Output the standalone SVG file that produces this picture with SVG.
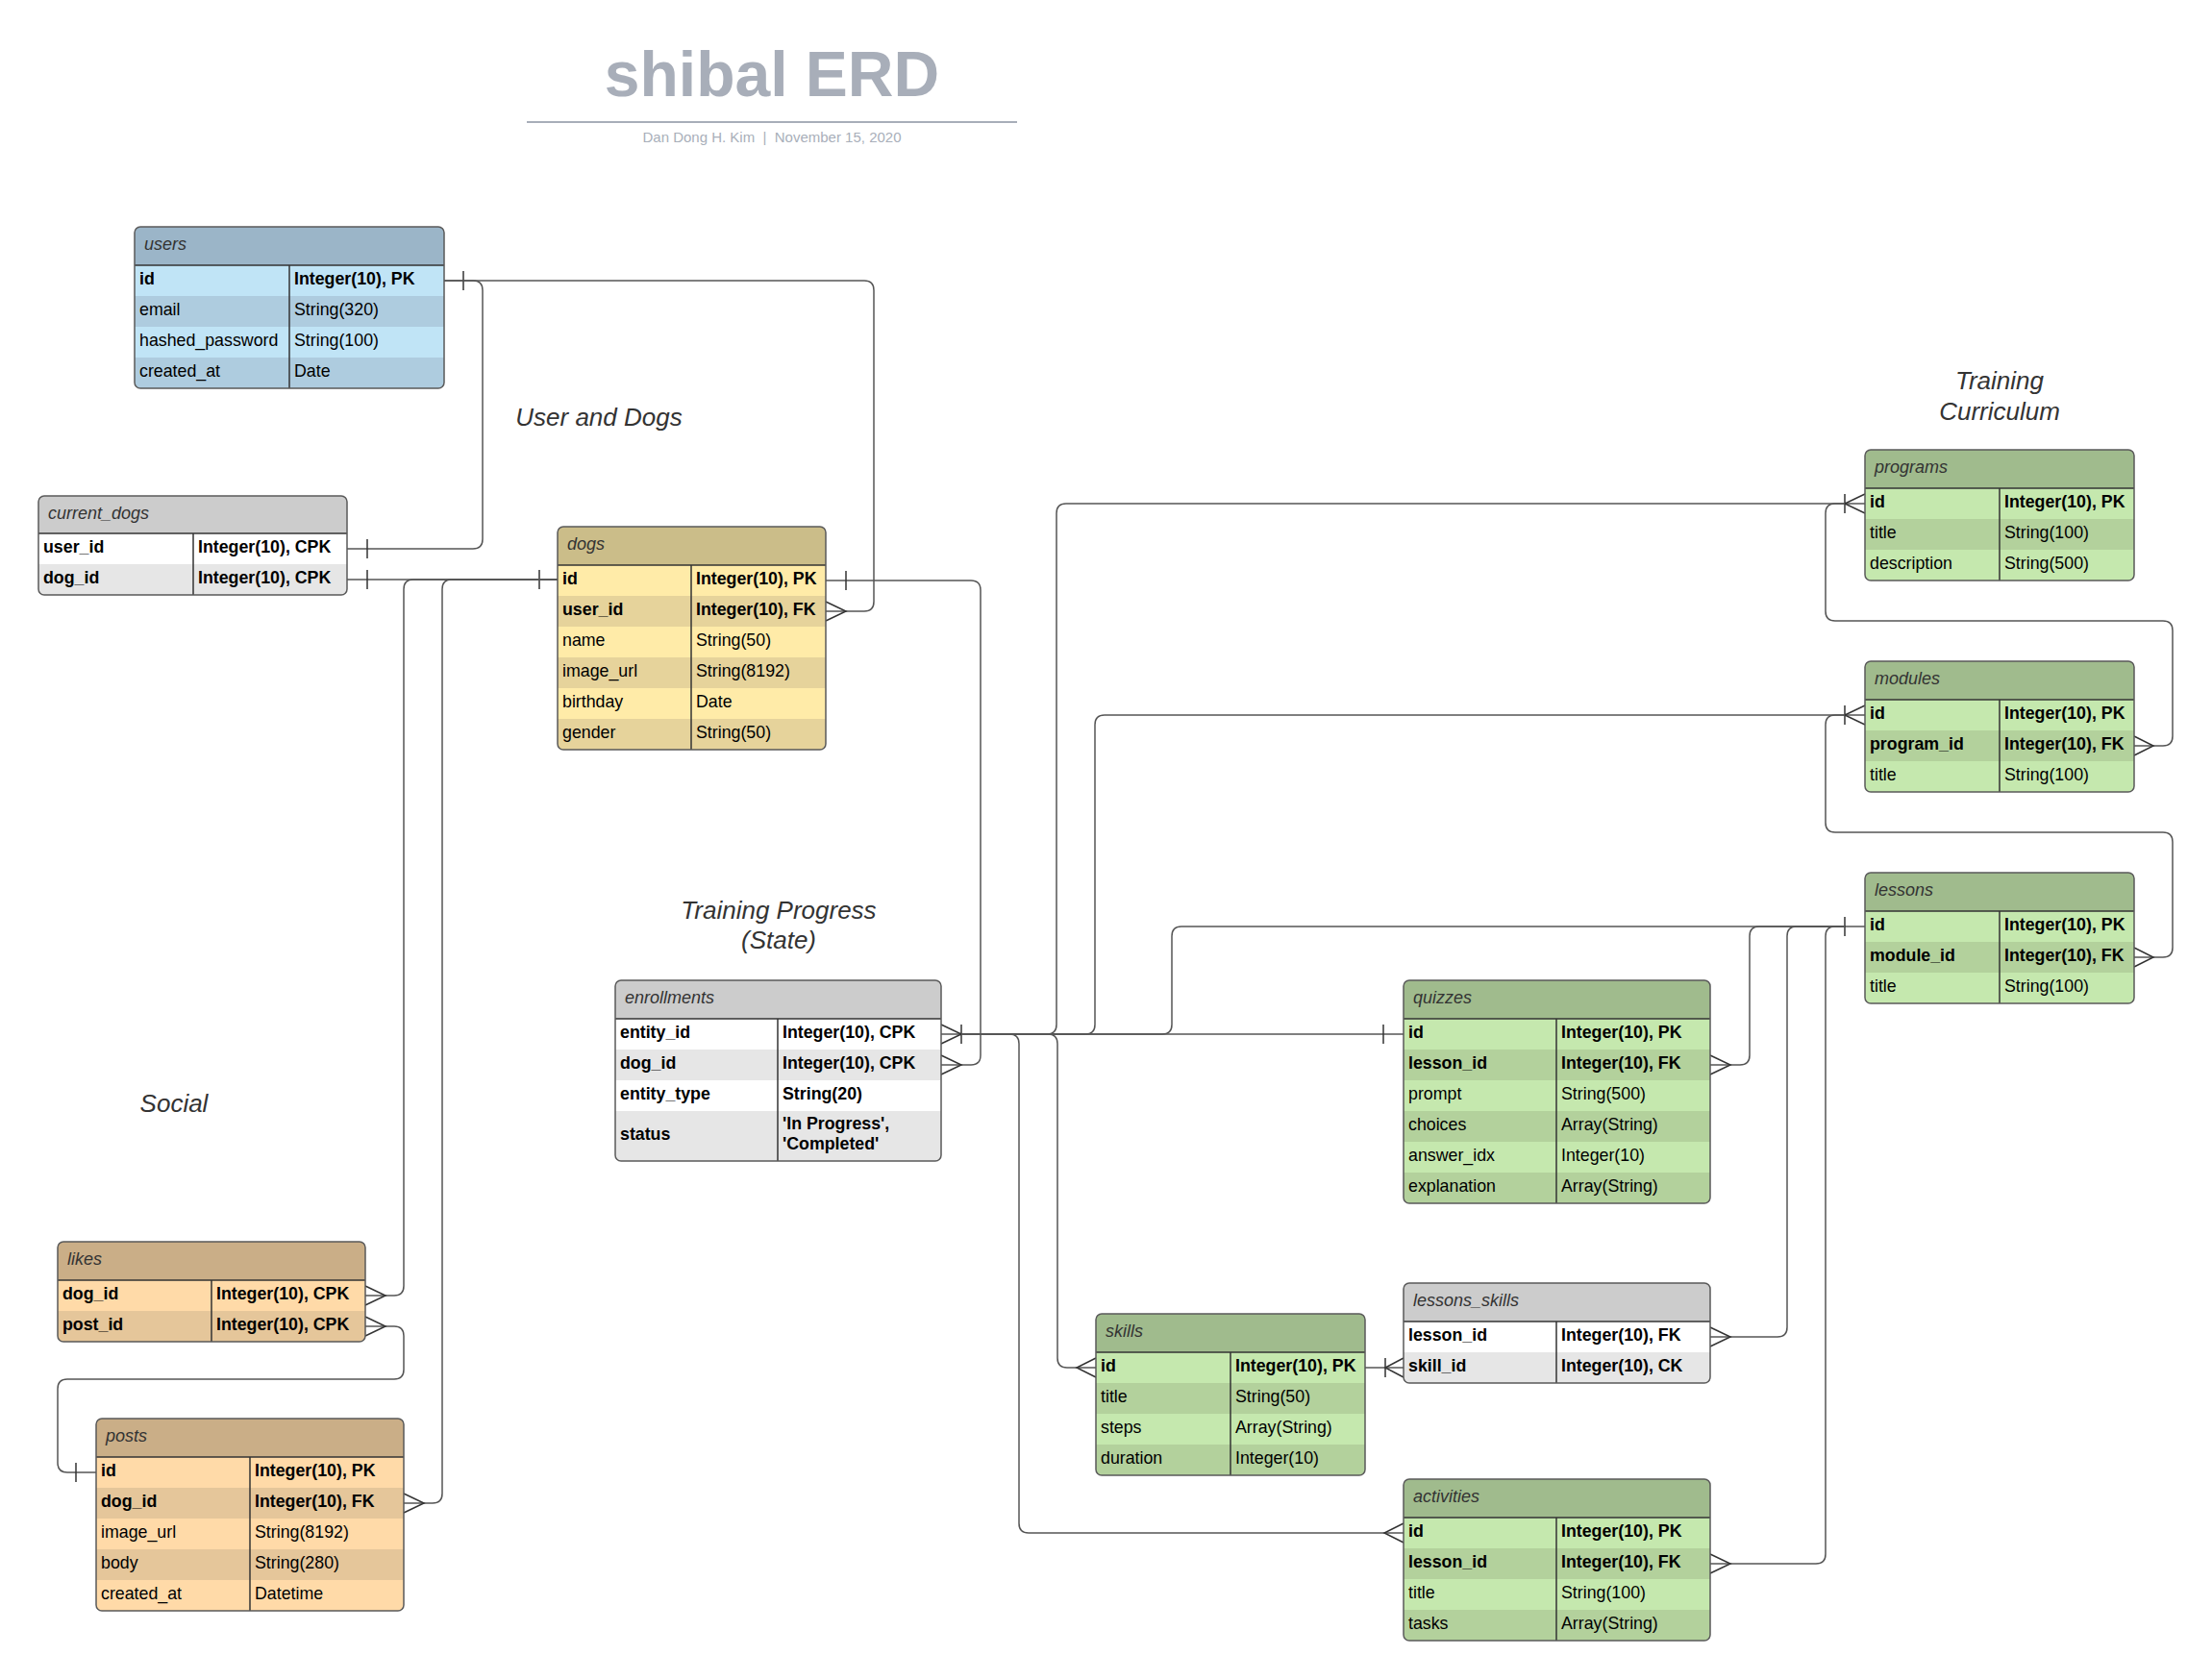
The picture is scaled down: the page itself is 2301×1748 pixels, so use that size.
<svg xmlns="http://www.w3.org/2000/svg" width="2301" height="1748" viewBox="0 0 2301 1748">
<style>
text{font-family:"Liberation Sans",Arial,sans-serif}
.t{font-size:17.8px;fill:#000}
.b{font-weight:bold}
.h{font-size:18px;font-style:italic;fill:#333}
.sec{font-size:26px;font-style:italic;fill:#333;text-anchor:middle}
.ln{fill:none;stroke:#555;stroke-width:1.5}
.mk{fill:none;stroke:#333;stroke-width:1.5}
.box{fill:none;stroke:#5a5a5a;stroke-width:1.5}
.sep{stroke:#333;stroke-width:1.5}
.gh{fill:#A0BB8D}.gl{fill:#C5E8AE}.gd{fill:#B3D19C}
.bh{fill:#9BB5C8}.bl{fill:#C0E4F6}.bd{fill:#AECCDF}
.yh{fill:#CBBD89}.yl{fill:#FFEBA8}.yd{fill:#E6D39B}
.oh{fill:#CAAE87}.ol{fill:#FFDAA8}.od{fill:#E5C69A}
.wh{fill:#CCCCCC}.wl{fill:#FFFFFF}.wd{fill:#E6E6E6}
</style>
<defs>
<clipPath id="cu"><rect x="140" y="236" width="322" height="168" rx="6"/></clipPath>
<clipPath id="ccd"><rect x="40" y="516" width="321" height="103" rx="6"/></clipPath>
<clipPath id="cdo"><rect x="580" y="548" width="279" height="232" rx="6"/></clipPath>
<clipPath id="cen"><rect x="640" y="1020" width="339" height="188" rx="6"/></clipPath>
<clipPath id="cpr"><rect x="1940" y="468" width="280" height="136" rx="6"/></clipPath>
<clipPath id="cmo"><rect x="1940" y="688" width="280" height="136" rx="6"/></clipPath>
<clipPath id="cle"><rect x="1940" y="908" width="280" height="136" rx="6"/></clipPath>
<clipPath id="cqu"><rect x="1460" y="1020" width="319" height="232" rx="6"/></clipPath>
<clipPath id="csk"><rect x="1140" y="1367" width="280" height="168" rx="6"/></clipPath>
<clipPath id="cls"><rect x="1460" y="1335" width="319" height="104" rx="6"/></clipPath>
<clipPath id="cac"><rect x="1460" y="1539" width="319" height="168" rx="6"/></clipPath>
<clipPath id="cli"><rect x="60" y="1292" width="320" height="104" rx="6"/></clipPath>
<clipPath id="cpo"><rect x="100" y="1476" width="320" height="200" rx="6"/></clipPath>
</defs>
<rect width="2301" height="1748" fill="#fff"/>

<g id="title">
<text x="803" y="100" text-anchor="middle" font-size="66" font-weight="bold" fill="#A8AEB9">shibal ERD</text>
<line x1="548" y1="127" x2="1058" y2="127" stroke="#A8AEB9" stroke-width="2"/>
<text x="803" y="148" text-anchor="middle" font-size="15" fill="#A9AFBA" style="white-space:pre">Dan Dong H. Kim  |  November 15, 2020</text>
</g>

<g id="labels">
<text class="sec" x="623" y="443">User and Dogs</text>
<text class="sec" x="810" y="956">Training Progress</text>
<text class="sec" x="810" y="987">(State)</text>
<text class="sec" x="2080" y="405">Training</text>
<text class="sec" x="2080" y="437">Curriculum</text>
<text class="sec" x="181" y="1157">Social</text>
</g>

<g id="connectors">
<!-- users.id -> dogs.user_id -->
<path class="ln" d="M462,292 H899 Q909,292 909,302 V626 Q909,636 899,636 H859"/>
<path class="mk" d="M859,626 L880,636 L859,646"/>
<path class="mk" d="M482,282 V302"/>
<!-- users.id -> current_dogs.user_id -->
<path class="ln" d="M462,292 H492 Q502,292 502,302 V561 Q502,571 492,571 H361"/>
<path class="mk" d="M382,561 V581"/>
<!-- current_dogs.dog_id -> dogs.id -->
<path class="ln" d="M361,603 H580"/>
<path class="mk" d="M382,593 V613 M561,593 V613"/>
<!-- dogs.id -> likes.dog_id -->
<path class="ln" d="M580,603 H430 Q420,603 420,613 V1338 Q420,1348 410,1348 H380"/>
<path class="mk" d="M380,1338 L401,1348 L380,1358"/>
<!-- dogs.id -> posts.dog_id -->
<path class="ln" d="M580,603 H470 Q460,603 460,613 V1554 Q460,1564 450,1564 H420"/>
<path class="mk" d="M420,1554 L441,1564 L420,1574"/>
<!-- posts.id -> likes.post_id -->
<path class="ln" d="M380,1380 H410 Q420,1380 420,1390 V1425 Q420,1435 410,1435 H70 Q60,1435 60,1445 V1522 Q60,1532 70,1532 H100"/>
<path class="mk" d="M380,1370 L401,1380 L380,1390"/>
<path class="mk" d="M79,1522 V1542"/>
<!-- dogs.id -> enrollments.dog_id -->
<path class="ln" d="M859,604 H1010 Q1020,604 1020,614 V1098 Q1020,1108 1010,1108 H979"/>
<path class="mk" d="M880,594 V614"/>
<path class="mk" d="M979,1098 L1000,1108 L979,1118"/>
<!-- enrollments.entity_id -> quizzes.id -->
<path class="ln" d="M979,1076 H1460"/>
<path class="mk" d="M979,1066 L1000,1076 L979,1086 M1000,1066 V1086"/>
<path class="mk" d="M1439,1066 V1086"/>
<!-- enrollments.entity_id -> programs.id -->
<path class="ln" d="M1000,1076 H1089 Q1099,1076 1099,1066 V534 Q1099,524 1109,524 H1940"/>
<path class="mk" d="M1940,514 L1919,524 L1940,534 M1919,514 V534"/>
<!-- enrollments.entity_id -> modules.id -->
<path class="ln" d="M1000,1076 H1129 Q1139,1076 1139,1066 V754 Q1139,744 1149,744 H1940"/>
<path class="mk" d="M1940,734 L1919,744 L1940,754 M1919,734 V754"/>
<!-- enrollments.entity_id -> lessons.id -->
<path class="ln" d="M1000,1076 H1209 Q1219,1076 1219,1066 V974 Q1219,964 1229,964 H1940"/>
<path class="mk" d="M1919,954 V974"/>
<!-- enrollments.entity_id -> skills.id -->
<path class="ln" d="M1000,1076 H1090 Q1100,1076 1100,1086 V1413 Q1100,1423 1110,1423 H1140"/>
<path class="mk" d="M1140,1413 L1120,1423 L1140,1433"/>
<!-- enrollments.entity_id -> activities.id -->
<path class="ln" d="M1000,1076 H1050 Q1060,1076 1060,1086 V1585 Q1060,1595 1070,1595 H1460"/>
<path class="mk" d="M1460,1585 L1440,1595 L1460,1605"/>
<!-- programs.id -> modules.program_id -->
<path class="ln" d="M1919,524 H1909 Q1899,524 1899,534 V636 Q1899,646 1909,646 H2250 Q2260,646 2260,656 V766 Q2260,776 2250,776 H2220"/>
<path class="mk" d="M2220,766 L2240,776 L2220,786"/>
<!-- modules.id -> lessons.module_id -->
<path class="ln" d="M1919,744 H1909 Q1899,744 1899,754 V856 Q1899,866 1909,866 H2250 Q2260,866 2260,876 V986 Q2260,996 2250,996 H2220"/>
<path class="mk" d="M2220,986 L2240,996 L2220,1006"/>
<!-- lessons.id -> quizzes.lesson_id -->
<path class="ln" d="M1919,964 H1830 Q1820,964 1820,974 V1098 Q1820,1108 1810,1108 H1779"/>
<path class="mk" d="M1779,1098 L1800,1108 L1779,1118"/>
<!-- lessons.id -> lessons_skills.lesson_id -->
<path class="ln" d="M1919,964 H1869 Q1859,964 1859,974 V1381 Q1859,1391 1849,1391 H1779"/>
<path class="mk" d="M1779,1381 L1800,1391 L1779,1401"/>
<!-- lessons.id -> activities.lesson_id -->
<path class="ln" d="M1919,964 H1909 Q1899,964 1899,974 V1617 Q1899,1627 1889,1627 H1779"/>
<path class="mk" d="M1779,1617 L1800,1627 L1779,1637"/>
<!-- skills.id -> lessons_skills.skill_id -->
<path class="ln" d="M1420,1423 H1460"/>
<path class="mk" d="M1441,1413 V1433 M1460,1413 L1441,1423 L1460,1433"/>
</g>

<g id="users">
<g clip-path="url(#cu)">
<rect class="bh" x="140" y="236" width="322" height="40"/>
<rect class="bl" x="140" y="276" width="322" height="32"/>
<rect class="bd" x="140" y="308" width="322" height="32"/>
<rect class="bl" x="140" y="340" width="322" height="32"/>
<rect class="bd" x="140" y="372" width="322" height="32"/>
</g>
<line class="sep" x1="140" y1="276" x2="462" y2="276"/>
<line class="sep" x1="301" y1="276" x2="301" y2="404"/>
<rect class="box" x="140" y="236" width="322" height="168" rx="6"/>
<text class="h" x="150" y="260">users</text>
<text class="t b" x="145" y="296">id</text><text class="t b" x="306" y="296">Integer(10), PK</text>
<text class="t" x="145" y="328">email</text><text class="t" x="306" y="328">String(320)</text>
<text class="t" x="145" y="360">hashed_password</text><text class="t" x="306" y="360">String(100)</text>
<text class="t" x="145" y="392">created_at</text><text class="t" x="306" y="392">Date</text>
</g>

<g id="current_dogs">
<g clip-path="url(#ccd)">
<rect class="wh" x="40" y="516" width="321" height="39"/>
<rect class="wl" x="40" y="555" width="321" height="32"/>
<rect class="wd" x="40" y="587" width="321" height="32"/>
</g>
<line class="sep" x1="40" y1="555" x2="361" y2="555"/>
<line class="sep" x1="201" y1="555" x2="201" y2="619"/>
<rect class="box" x="40" y="516" width="321" height="103" rx="6"/>
<text class="h" x="50" y="540">current_dogs</text>
<text class="t b" x="45" y="575">user_id</text><text class="t b" x="206" y="575">Integer(10), CPK</text>
<text class="t b" x="45" y="607">dog_id</text><text class="t b" x="206" y="607">Integer(10), CPK</text>
</g>

<g id="dogs">
<g clip-path="url(#cdo)">
<rect class="yh" x="580" y="548" width="279" height="40"/>
<rect class="yl" x="580" y="588" width="279" height="32"/>
<rect class="yd" x="580" y="620" width="279" height="32"/>
<rect class="yl" x="580" y="652" width="279" height="32"/>
<rect class="yd" x="580" y="684" width="279" height="32"/>
<rect class="yl" x="580" y="716" width="279" height="32"/>
<rect class="yd" x="580" y="748" width="279" height="32"/>
</g>
<line class="sep" x1="580" y1="588" x2="859" y2="588"/>
<line class="sep" x1="719" y1="588" x2="719" y2="780"/>
<rect class="box" x="580" y="548" width="279" height="232" rx="6"/>
<text class="h" x="590" y="572">dogs</text>
<text class="t b" x="585" y="608">id</text><text class="t b" x="724" y="608">Integer(10), PK</text>
<text class="t b" x="585" y="640">user_id</text><text class="t b" x="724" y="640">Integer(10), FK</text>
<text class="t" x="585" y="672">name</text><text class="t" x="724" y="672">String(50)</text>
<text class="t" x="585" y="704">image_url</text><text class="t" x="724" y="704">String(8192)</text>
<text class="t" x="585" y="736">birthday</text><text class="t" x="724" y="736">Date</text>
<text class="t" x="585" y="768">gender</text><text class="t" x="724" y="768">String(50)</text>
</g>

<g id="enrollments">
<g clip-path="url(#cen)">
<rect class="wh" x="640" y="1020" width="339" height="40"/>
<rect class="wl" x="640" y="1060" width="339" height="32"/>
<rect class="wd" x="640" y="1092" width="339" height="32"/>
<rect class="wl" x="640" y="1124" width="339" height="32"/>
<rect class="wd" x="640" y="1156" width="339" height="52"/>
</g>
<line class="sep" x1="640" y1="1060" x2="979" y2="1060"/>
<line class="sep" x1="809" y1="1060" x2="809" y2="1208"/>
<rect class="box" x="640" y="1020" width="339" height="188" rx="6"/>
<text class="h" x="650" y="1044">enrollments</text>
<text class="t b" x="645" y="1080">entity_id</text><text class="t b" x="814" y="1080">Integer(10), CPK</text>
<text class="t b" x="645" y="1112">dog_id</text><text class="t b" x="814" y="1112">Integer(10), CPK</text>
<text class="t b" x="645" y="1144">entity_type</text><text class="t b" x="814" y="1144">String(20)</text>
<text class="t b" x="645" y="1186">status</text>
<text class="t b" x="814" y="1175">'In Progress',</text>
<text class="t b" x="814" y="1196">'Completed'</text>
</g>

<g id="programs">
<g clip-path="url(#cpr)">
<rect class="gh" x="1940" y="468" width="280" height="40"/>
<rect class="gl" x="1940" y="508" width="280" height="32"/>
<rect class="gd" x="1940" y="540" width="280" height="32"/>
<rect class="gl" x="1940" y="572" width="280" height="32"/>
</g>
<line class="sep" x1="1940" y1="508" x2="2220" y2="508"/>
<line class="sep" x1="2080" y1="508" x2="2080" y2="604"/>
<rect class="box" x="1940" y="468" width="280" height="136" rx="6"/>
<text class="h" x="1950" y="492">programs</text>
<text class="t b" x="1945" y="528">id</text><text class="t b" x="2085" y="528">Integer(10), PK</text>
<text class="t" x="1945" y="560">title</text><text class="t" x="2085" y="560">String(100)</text>
<text class="t" x="1945" y="592">description</text><text class="t" x="2085" y="592">String(500)</text>
</g>

<g id="modules">
<g clip-path="url(#cmo)">
<rect class="gh" x="1940" y="688" width="280" height="40"/>
<rect class="gl" x="1940" y="728" width="280" height="32"/>
<rect class="gd" x="1940" y="760" width="280" height="32"/>
<rect class="gl" x="1940" y="792" width="280" height="32"/>
</g>
<line class="sep" x1="1940" y1="728" x2="2220" y2="728"/>
<line class="sep" x1="2080" y1="728" x2="2080" y2="824"/>
<rect class="box" x="1940" y="688" width="280" height="136" rx="6"/>
<text class="h" x="1950" y="712">modules</text>
<text class="t b" x="1945" y="748">id</text><text class="t b" x="2085" y="748">Integer(10), PK</text>
<text class="t b" x="1945" y="780">program_id</text><text class="t b" x="2085" y="780">Integer(10), FK</text>
<text class="t" x="1945" y="812">title</text><text class="t" x="2085" y="812">String(100)</text>
</g>

<g id="lessons">
<g clip-path="url(#cle)">
<rect class="gh" x="1940" y="908" width="280" height="40"/>
<rect class="gl" x="1940" y="948" width="280" height="32"/>
<rect class="gd" x="1940" y="980" width="280" height="32"/>
<rect class="gl" x="1940" y="1012" width="280" height="32"/>
</g>
<line class="sep" x1="1940" y1="948" x2="2220" y2="948"/>
<line class="sep" x1="2080" y1="948" x2="2080" y2="1044"/>
<rect class="box" x="1940" y="908" width="280" height="136" rx="6"/>
<text class="h" x="1950" y="932">lessons</text>
<text class="t b" x="1945" y="968">id</text><text class="t b" x="2085" y="968">Integer(10), PK</text>
<text class="t b" x="1945" y="1000">module_id</text><text class="t b" x="2085" y="1000">Integer(10), FK</text>
<text class="t" x="1945" y="1032">title</text><text class="t" x="2085" y="1032">String(100)</text>
</g>

<g id="quizzes">
<g clip-path="url(#cqu)">
<rect class="gh" x="1460" y="1020" width="319" height="40"/>
<rect class="gl" x="1460" y="1060" width="319" height="32"/>
<rect class="gd" x="1460" y="1092" width="319" height="32"/>
<rect class="gl" x="1460" y="1124" width="319" height="32"/>
<rect class="gd" x="1460" y="1156" width="319" height="32"/>
<rect class="gl" x="1460" y="1188" width="319" height="32"/>
<rect class="gd" x="1460" y="1220" width="319" height="32"/>
</g>
<line class="sep" x1="1460" y1="1060" x2="1779" y2="1060"/>
<line class="sep" x1="1619" y1="1060" x2="1619" y2="1252"/>
<rect class="box" x="1460" y="1020" width="319" height="232" rx="6"/>
<text class="h" x="1470" y="1044">quizzes</text>
<text class="t b" x="1465" y="1080">id</text><text class="t b" x="1624" y="1080">Integer(10), PK</text>
<text class="t b" x="1465" y="1112">lesson_id</text><text class="t b" x="1624" y="1112">Integer(10), FK</text>
<text class="t" x="1465" y="1144">prompt</text><text class="t" x="1624" y="1144">String(500)</text>
<text class="t" x="1465" y="1176">choices</text><text class="t" x="1624" y="1176">Array(String)</text>
<text class="t" x="1465" y="1208">answer_idx</text><text class="t" x="1624" y="1208">Integer(10)</text>
<text class="t" x="1465" y="1240">explanation</text><text class="t" x="1624" y="1240">Array(String)</text>
</g>

<g id="skills">
<g clip-path="url(#csk)">
<rect class="gh" x="1140" y="1367" width="280" height="40"/>
<rect class="gl" x="1140" y="1407" width="280" height="32"/>
<rect class="gd" x="1140" y="1439" width="280" height="32"/>
<rect class="gl" x="1140" y="1471" width="280" height="32"/>
<rect class="gd" x="1140" y="1503" width="280" height="32"/>
</g>
<line class="sep" x1="1140" y1="1407" x2="1420" y2="1407"/>
<line class="sep" x1="1280" y1="1407" x2="1280" y2="1535"/>
<rect class="box" x="1140" y="1367" width="280" height="168" rx="6"/>
<text class="h" x="1150" y="1391">skills</text>
<text class="t b" x="1145" y="1427">id</text><text class="t b" x="1285" y="1427">Integer(10), PK</text>
<text class="t" x="1145" y="1459">title</text><text class="t" x="1285" y="1459">String(50)</text>
<text class="t" x="1145" y="1491">steps</text><text class="t" x="1285" y="1491">Array(String)</text>
<text class="t" x="1145" y="1523">duration</text><text class="t" x="1285" y="1523">Integer(10)</text>
</g>

<g id="lessons_skills">
<g clip-path="url(#cls)">
<rect class="wh" x="1460" y="1335" width="319" height="40"/>
<rect class="wl" x="1460" y="1375" width="319" height="32"/>
<rect class="wd" x="1460" y="1407" width="319" height="32"/>
</g>
<line class="sep" x1="1460" y1="1375" x2="1779" y2="1375"/>
<line class="sep" x1="1619" y1="1375" x2="1619" y2="1439"/>
<rect class="box" x="1460" y="1335" width="319" height="104" rx="6"/>
<text class="h" x="1470" y="1359">lessons_skills</text>
<text class="t b" x="1465" y="1395">lesson_id</text><text class="t b" x="1624" y="1395">Integer(10), FK</text>
<text class="t b" x="1465" y="1427">skill_id</text><text class="t b" x="1624" y="1427">Integer(10), CK</text>
</g>

<g id="activities">
<g clip-path="url(#cac)">
<rect class="gh" x="1460" y="1539" width="319" height="40"/>
<rect class="gl" x="1460" y="1579" width="319" height="32"/>
<rect class="gd" x="1460" y="1611" width="319" height="32"/>
<rect class="gl" x="1460" y="1643" width="319" height="32"/>
<rect class="gd" x="1460" y="1675" width="319" height="32"/>
</g>
<line class="sep" x1="1460" y1="1579" x2="1779" y2="1579"/>
<line class="sep" x1="1619" y1="1579" x2="1619" y2="1707"/>
<rect class="box" x="1460" y="1539" width="319" height="168" rx="6"/>
<text class="h" x="1470" y="1563">activities</text>
<text class="t b" x="1465" y="1599">id</text><text class="t b" x="1624" y="1599">Integer(10), PK</text>
<text class="t b" x="1465" y="1631">lesson_id</text><text class="t b" x="1624" y="1631">Integer(10), FK</text>
<text class="t" x="1465" y="1663">title</text><text class="t" x="1624" y="1663">String(100)</text>
<text class="t" x="1465" y="1695">tasks</text><text class="t" x="1624" y="1695">Array(String)</text>
</g>

<g id="likes">
<g clip-path="url(#cli)">
<rect class="oh" x="60" y="1292" width="320" height="40"/>
<rect class="ol" x="60" y="1332" width="320" height="32"/>
<rect class="od" x="60" y="1364" width="320" height="32"/>
</g>
<line class="sep" x1="60" y1="1332" x2="380" y2="1332"/>
<line class="sep" x1="220" y1="1332" x2="220" y2="1396"/>
<rect class="box" x="60" y="1292" width="320" height="104" rx="6"/>
<text class="h" x="70" y="1316">likes</text>
<text class="t b" x="65" y="1352">dog_id</text><text class="t b" x="225" y="1352">Integer(10), CPK</text>
<text class="t b" x="65" y="1384">post_id</text><text class="t b" x="225" y="1384">Integer(10), CPK</text>
</g>

<g id="posts">
<g clip-path="url(#cpo)">
<rect class="oh" x="100" y="1476" width="320" height="40"/>
<rect class="ol" x="100" y="1516" width="320" height="32"/>
<rect class="od" x="100" y="1548" width="320" height="32"/>
<rect class="ol" x="100" y="1580" width="320" height="32"/>
<rect class="od" x="100" y="1612" width="320" height="32"/>
<rect class="ol" x="100" y="1644" width="320" height="32"/>
</g>
<line class="sep" x1="100" y1="1516" x2="420" y2="1516"/>
<line class="sep" x1="260" y1="1516" x2="260" y2="1676"/>
<rect class="box" x="100" y="1476" width="320" height="200" rx="6"/>
<text class="h" x="110" y="1500">posts</text>
<text class="t b" x="105" y="1536">id</text><text class="t b" x="265" y="1536">Integer(10), PK</text>
<text class="t b" x="105" y="1568">dog_id</text><text class="t b" x="265" y="1568">Integer(10), FK</text>
<text class="t" x="105" y="1600">image_url</text><text class="t" x="265" y="1600">String(8192)</text>
<text class="t" x="105" y="1632">body</text><text class="t" x="265" y="1632">String(280)</text>
<text class="t" x="105" y="1664">created_at</text><text class="t" x="265" y="1664">Datetime</text>
</g>
</svg>
